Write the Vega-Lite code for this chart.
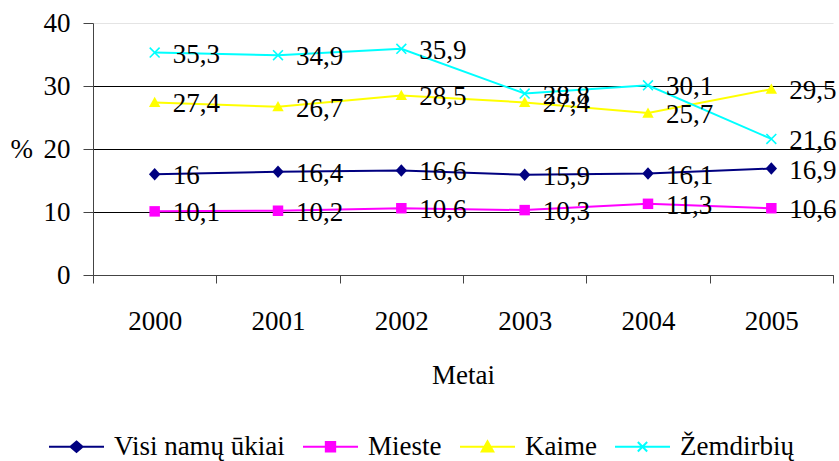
{
  "$schema": "https://vega.github.io/schema/vega-lite/v6.json",
  "width": 740,
  "height": 252,
  "autosize": "none",
  "padding": {"left": 93, "top": 23, "right": 6, "bottom": 186},
  "config": {
    "font": "Liberation Serif",
    "view": {"stroke": null},
    "axis": {"labelFont": "Liberation Serif", "titleFont": "Liberation Serif", "labelColor": "black", "titleColor": "black", "labelFontSize": 27, "titleFontSize": 27, "titleFontWeight": "normal", "domainColor": "#444", "tickColor": "#444"},
    "legend": {"labelFont": "Liberation Serif", "labelFontSize": 27, "labelColor": "black"}
  },
  "data": {
    "values": [
      {"year": "2000", "series": "Visi namų ūkiai", "value": 16},
      {"year": "2001", "series": "Visi namų ūkiai", "value": 16.4},
      {"year": "2002", "series": "Visi namų ūkiai", "value": 16.6},
      {"year": "2003", "series": "Visi namų ūkiai", "value": 15.9},
      {"year": "2004", "series": "Visi namų ūkiai", "value": 16.1},
      {"year": "2005", "series": "Visi namų ūkiai", "value": 16.9},
      {"year": "2000", "series": "Mieste", "value": 10.1},
      {"year": "2001", "series": "Mieste", "value": 10.2},
      {"year": "2002", "series": "Mieste", "value": 10.6},
      {"year": "2003", "series": "Mieste", "value": 10.3},
      {"year": "2004", "series": "Mieste", "value": 11.3},
      {"year": "2005", "series": "Mieste", "value": 10.6},
      {"year": "2000", "series": "Kaime", "value": 27.4},
      {"year": "2001", "series": "Kaime", "value": 26.7},
      {"year": "2002", "series": "Kaime", "value": 28.5},
      {"year": "2003", "series": "Kaime", "value": 27.4},
      {"year": "2004", "series": "Kaime", "value": 25.7},
      {"year": "2005", "series": "Kaime", "value": 29.5},
      {"year": "2000", "series": "Žemdirbių", "value": 35.3},
      {"year": "2001", "series": "Žemdirbių", "value": 34.9},
      {"year": "2002", "series": "Žemdirbių", "value": 35.9},
      {"year": "2003", "series": "Žemdirbių", "value": 28.8},
      {"year": "2004", "series": "Žemdirbių", "value": 30.1},
      {"year": "2005", "series": "Žemdirbių", "value": 21.6}
    ]
  },
  "transform": [{"calculate": "replace(toString(datum.value), '.', ',')", "as": "label"}],
  "encoding": {
    "x": {"field": "year", "type": "nominal", "scale": {"type": "band", "paddingInner": 0, "paddingOuter": 0},
      "axis": {"title": "Metai", "labelAngle": 0, "tickBand": "extent", "tickSize": 8, "labelPadding": 25, "titlePadding": 28, "grid": false}},
    "y": {"field": "value", "type": "quantitative", "scale": {"domain": [0, 40], "nice": false},
      "axis": {"values": [0, 10, 20, 30, 40], "title": "%", "titleAngle": 0, "titleX": -83, "titleY": 126, "titleAlign": "left", "titleBaseline": "middle", "tickSize": 10, "labelPadding": 13, "grid": true,
        "gridColor": {"condition": {"test": "datum.value === 40", "value": "#e4e4e4"}, "value": "#000"}}}
  },
  "layer": [
    {
      "transform": [{"filter": "false"}],
      "mark": {"type": "point", "filled": true, "opacity": 1, "size": 3025, "strokeWidth": 2},
      "encoding": {
        "color": {"field": "series", "type": "nominal",
          "scale": {"domain": ["Visi namų ūkiai", "Mieste", "Kaime", "Žemdirbių"], "range": ["#000080", "#ff00ff", "#ffff00", "#00ffff"]},
          "legend": {"title": null, "orient": "none", "legendX": -45, "legendY": 395, "direction": "horizontal", "symbolSize": 3025, "symbolStrokeWidth": 2, "labelOffset": 9, "columnPadding": 14, "labelLimit": 400}},
        "stroke": {"field": "series", "type": "nominal", "scale": {"domain": ["Visi namų ūkiai", "Mieste", "Kaime", "Žemdirbių"], "range": ["#000080", "#ff00ff", "#ffff00", "#00ffff"]},
          "legend": {"title": null, "orient": "none", "legendX": -45, "legendY": 395, "direction": "horizontal", "symbolSize": 3025, "symbolStrokeWidth": 2, "labelOffset": 9, "columnPadding": 14, "labelLimit": 400}},
        "shape": {"field": "series", "type": "nominal",
          "scale": {"domain": ["Visi namų ūkiai", "Mieste", "Kaime", "Žemdirbių"], "range": ["M-1,0H1M0,-0.19L0.22,0L0,0.19L-0.22,0Z", "M-1,0H1M-0.17,-0.17H0.17V0.17H-0.17Z", "M-1,0H1M0,-0.2L0.21,0.17H-0.21Z", "M-1,0H1M-0.17,-0.17L0.17,0.17M-0.17,0.17L0.17,-0.17"]},
          "legend": {"title": null, "orient": "none", "legendX": -45, "legendY": 395, "direction": "horizontal", "symbolSize": 3025, "symbolStrokeWidth": 2, "labelOffset": 9, "columnPadding": 14, "labelLimit": 400}}
      }
    },
    {
      "mark": {"type": "line", "strokeWidth": 2},
      "encoding": {
        "color": {"field": "series", "type": "nominal", "scale": {"domain": ["Visi namų ūkiai", "Mieste", "Kaime", "Žemdirbių"], "range": ["#000080", "#ff00ff", "#ffff00", "#00ffff"]}}
      }
    },
    {
      "transform": [{"filter": "datum.series === 'Visi namų ūkiai'"}],
      "mark": {"type": "point", "filled": true, "size": 130, "opacity": 1, "shape": "M0,-1.1L1,0L0,1.1L-1,0Z"},
      "encoding": {"color": {"field": "series", "type": "nominal"}}
    },
    {
      "transform": [{"filter": "datum.series === 'Mieste'"}],
      "mark": {"type": "point", "filled": true, "size": 110, "opacity": 1, "shape": "square"},
      "encoding": {"color": {"field": "series", "type": "nominal"}}
    },
    {
      "transform": [{"filter": "datum.series === 'Kaime'"}],
      "mark": {"type": "point", "filled": true, "size": 130, "opacity": 1, "shape": "M0,-1L1,0.8H-1Z"},
      "encoding": {"color": {"field": "series", "type": "nominal"}}
    },
    {
      "transform": [{"filter": "datum.series === 'Žemdirbių'"}],
      "mark": {"type": "point", "filled": false, "size": 120, "strokeWidth": 1.6, "opacity": 1, "shape": "M-0.9,-0.9L0.9,0.9M-0.9,0.9L0.9,-0.9"},
      "encoding": {"color": {"field": "series", "type": "nominal"}}
    },
    {
      "mark": {"type": "text", "align": "left", "baseline": "middle", "dx": 18, "dy": 2, "fontSize": 27, "font": "Liberation Serif", "color": "black"},
      "encoding": {
        "text": {"field": "label", "type": "nominal"}
      }
    }
  ]
}
